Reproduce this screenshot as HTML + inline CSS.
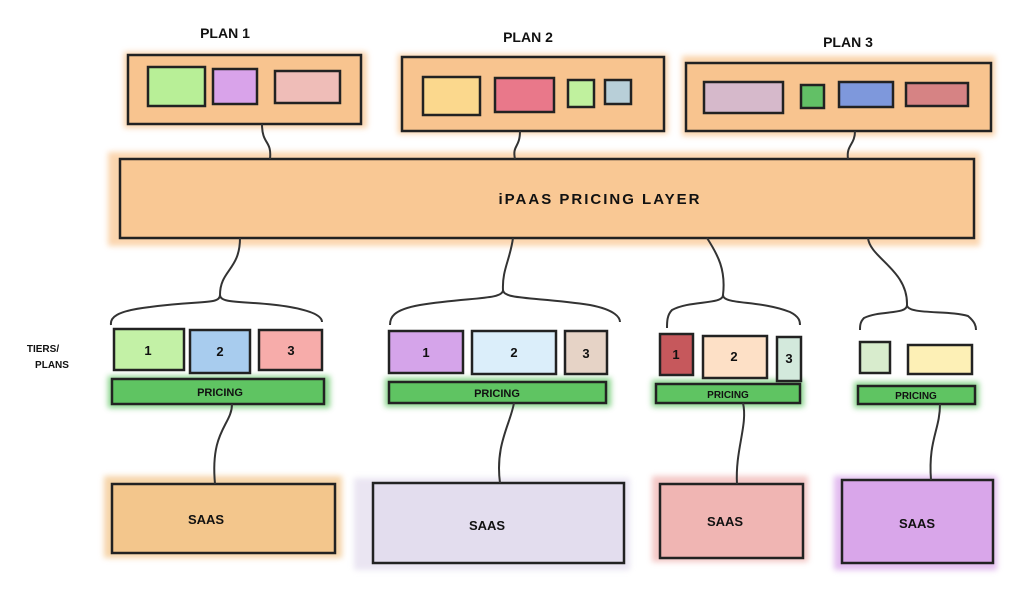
<!DOCTYPE html>
<html><head><meta charset="utf-8"><style>
html,body{margin:0;padding:0;background:#fff}
svg text{font-family:"Liberation Sans",sans-serif;fill:#111;}
</style></head><body>
<svg width="1024" height="595" viewBox="0 0 1024 595" xmlns="http://www.w3.org/2000/svg">
<defs><filter id="b" x="-10%" y="-30%" width="120%" height="160%"><feGaussianBlur stdDeviation="3"/></filter></defs>
<g filter="url(#b)" opacity="0.75">
<rect x="124" y="52" width="243" height="76" fill="#f8c48f"/>
<rect x="398" y="54" width="270" height="80" fill="#f8c48f"/>
<rect x="682" y="56" width="313" height="80" fill="#f8c48f"/>
<rect x="108" y="152" width="872" height="94" fill="#f9c894"/>
<rect x="104" y="476" width="238" height="82" fill="#f3c68c"/>
<rect x="354" y="478" width="276" height="92" fill="#e3ddee"/>
<rect x="652" y="476" width="156" height="86" fill="#f0b5b3"/>
<rect x="834" y="476" width="163" height="94" fill="#d9a6ea"/>
<rect x="108" y="376" width="222" height="32" fill="#5fc462"/>
<rect x="385" y="378" width="226" height="29" fill="#5fc462"/>
<rect x="652" y="380" width="152" height="27" fill="#5fc462"/>
<rect x="854" y="382" width="125" height="26" fill="#5fc462"/>
</g>
<g stroke="#222" stroke-width="2.5">
<rect x="128" y="55" width="233" height="69" fill="#f8c48f"/>
<rect x="402" y="57" width="262" height="74" fill="#f8c48f"/>
<rect x="686" y="63" width="305" height="68" fill="#f8c48f"/>
<rect x="148" y="67" width="57" height="39" fill="#b8ef97"/>
<rect x="213" y="69" width="44" height="35" fill="#d9a3ea"/>
<rect x="275" y="71" width="65" height="32" fill="#efbdb8"/>
<rect x="423" y="77" width="57" height="38" fill="#fbd88d"/>
<rect x="495" y="78" width="59" height="34" fill="#e9788a"/>
<rect x="568" y="80" width="26" height="27" fill="#c0f19e"/>
<rect x="605" y="80" width="26" height="24" fill="#b8cfd8"/>
<rect x="704" y="82" width="79" height="31" fill="#d6b9cb"/>
<rect x="801" y="85" width="23" height="23" fill="#62c066"/>
<rect x="839" y="82" width="54" height="25" fill="#7e98dc"/>
<rect x="906" y="83" width="62" height="23" fill="#d68384"/>
<rect x="120" y="159" width="854" height="79" fill="#f9c894"/>
<rect x="114" y="329" width="70" height="41" fill="#c3f1a6"/>
<rect x="190" y="330" width="60" height="43" fill="#a8ccee"/>
<rect x="259" y="330" width="63" height="40" fill="#f7acaa"/>
<rect x="112" y="379" width="212" height="25" fill="#5fc462"/>
<rect x="389" y="331" width="74" height="42" fill="#d5a4ea"/>
<rect x="472" y="331" width="84" height="43" fill="#dbeefa"/>
<rect x="565" y="331" width="42" height="43" fill="#e6d3c6"/>
<rect x="389" y="382" width="217" height="21" fill="#5fc462"/>
<rect x="660" y="334" width="33" height="41" fill="#c6585c"/>
<rect x="703" y="336" width="64" height="42" fill="#fde0c6"/>
<rect x="777" y="337" width="24" height="44" fill="#d3e9dc"/>
<rect x="656" y="384" width="144" height="19" fill="#5fc462"/>
<rect x="860" y="342" width="30" height="31" fill="#d8eccd"/>
<rect x="908" y="345" width="64" height="29" fill="#fdf0b6"/>
<rect x="858" y="386" width="117" height="18" fill="#5fc462"/>
<rect x="112" y="484" width="223" height="69" fill="#f3c68c"/>
<rect x="373" y="483" width="251" height="80" fill="#e3ddee"/>
<rect x="660" y="484" width="143" height="74" fill="#f0b5b3"/>
<rect x="842" y="480" width="151" height="83" fill="#d9a6ea"/>
</g>
<g stroke="#333" stroke-width="2" fill="none">
<path d="M262 124 C262 145 272 140 270 159"/>
<path d="M520 131 C520 148 512 145 515 159"/>
<path d="M855 131 C855 145 846 145 848 159"/>
<path d="M240 238 C240 270 220 270 220 295 C220 305 200 300 150 307 C115 311 110 318 111 325"/>
<path d="M220 295 C220 305 250 300 290 307 C318 312 322 318 322 322"/>
<path d="M513 238 C510 260 502 270 503 290 C503 300 470 297 420 305 C392 310 390 318 390 325"/>
<path d="M503 290 C503 300 540 297 590 305 C616 310 620 318 620 322"/>
<path d="M707 238 C718 255 726 270 723 295 C723 305 690 300 672 310 C667 315 667 322 667 328"/>
<path d="M723 295 C723 305 760 300 790 312 C800 317 800 322 800 325"/>
<path d="M868 238 C870 258 908 270 907 305 C907 315 880 310 864 318 C860 322 860 326 860 330"/>
<path d="M907 305 C907 315 950 310 968 316 C975 322 976 326 976 330"/>
<path d="M232 404 C232 425 210 430 215 484"/>
<path d="M514 403 C510 425 495 445 500 483"/>
<path d="M743 403 C748 425 735 450 737 484"/>
<path d="M940 404 C940 430 928 440 931 480"/>
</g>
<g font-size="13" font-weight="bold" text-anchor="middle">
<text x="225" y="38" font-size="14">PLAN 1</text>
<text x="528" y="42" font-size="14">PLAN 2</text>
<text x="848" y="47" font-size="14">PLAN 3</text>
<text x="600" y="204" font-size="15" letter-spacing="2">iPAAS PRICING LAYER</text>
<text x="148" y="355">1</text><text x="220" y="356">2</text><text x="291" y="355">3</text>
<text x="426" y="357">1</text><text x="514" y="357">2</text><text x="586" y="358">3</text>
<text x="676" y="359">1</text><text x="734" y="361">2</text><text x="789" y="363">3</text>
<text x="220" y="396" font-size="11">PRICING</text>
<text x="497" y="397" font-size="11">PRICING</text>
<text x="728" y="398" font-size="10">PRICING</text>
<text x="916" y="399" font-size="10">PRICING</text>
<text x="206" y="524">SAAS</text>
<text x="487" y="530">SAAS</text>
<text x="725" y="526">SAAS</text>
<text x="917" y="528">SAAS</text>
<text x="43" y="352" font-size="10">TIERS/</text>
<text x="52" y="368" font-size="10">PLANS</text>
</g>
</svg>
</body></html>
